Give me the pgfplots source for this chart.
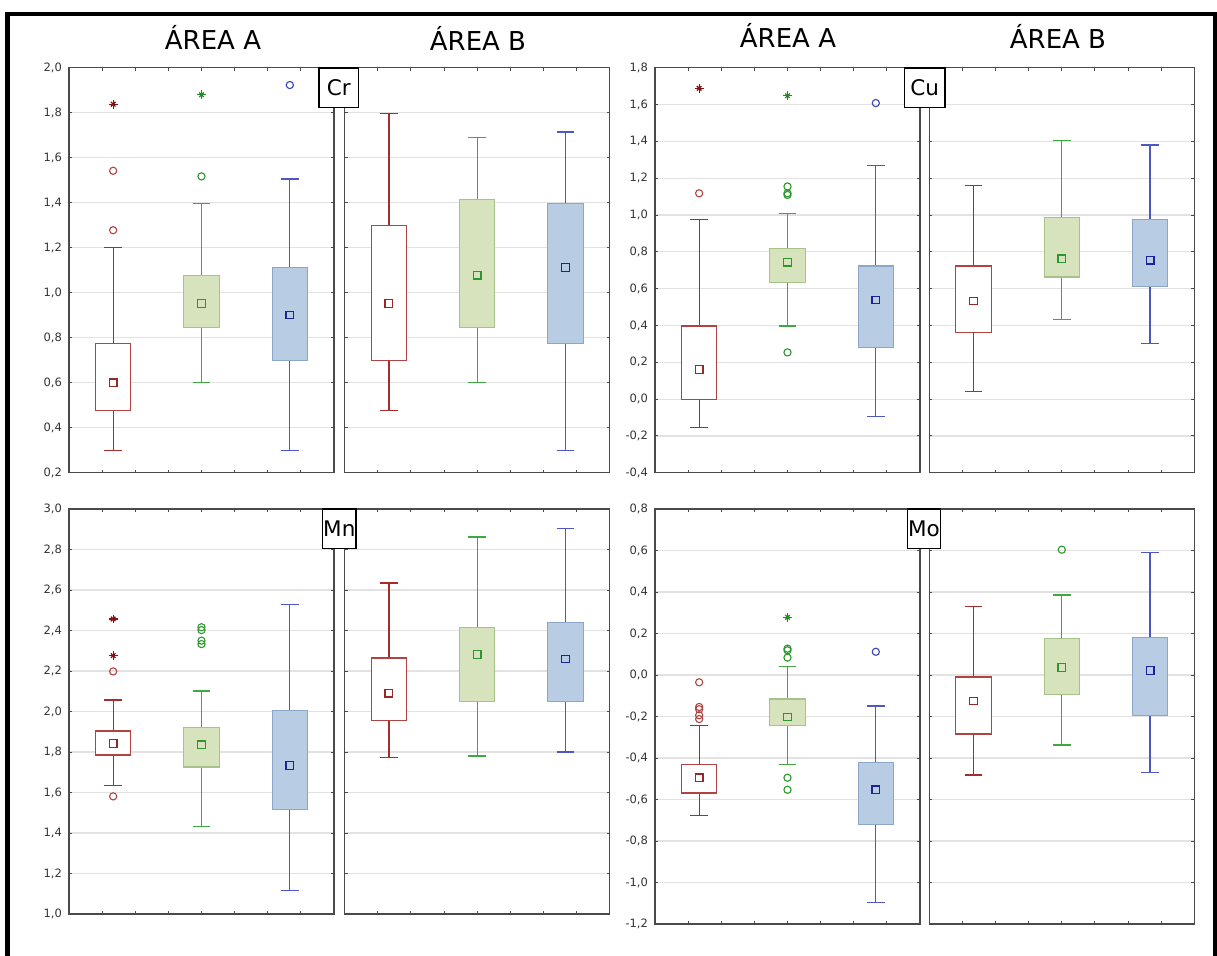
\documentclass[border=0pt]{standalone}
\usepackage{pgfplots}
\pgfplotsset{compat=1.18}
\usepgfplotslibrary{statistics}
\usepackage{fontspec}
\setmainfont{DejaVu Sans}

\definecolor{axgray}{HTML}{4A4A4A}
\definecolor{gridgray}{HTML}{E2E2E2}
\definecolor{tickgray}{HTML}{333333}
\definecolor{rline}{HTML}{B04444}
\definecolor{rfill}{HTML}{FFFFFF}
\definecolor{rwhisk}{HTML}{A82C2C}
\definecolor{rmeanc}{HTML}{962828}
\definecolor{rstarc}{HTML}{8A1010}
\definecolor{gline}{HTML}{A8C28C}
\definecolor{gfill}{HTML}{D6E3BC}
\definecolor{gwhisk}{HTML}{40A840}
\definecolor{gmeanc}{HTML}{2E962E}
\definecolor{gstarc}{HTML}{1E8C1E}
\definecolor{bline}{HTML}{8CA6C8}
\definecolor{bfill}{HTML}{B8CCE4}
\definecolor{bwhisk}{HTML}{4E58C4}
\definecolor{bmeanc}{HTML}{20209A}
\definecolor{boutc}{HTML}{3A44B8}

\pgfplotsset{
  panel/.style={scale only axis, width=132.5pt,
    xmin=0, xmax=6, xtick={0.75,1.5,2.25,3,3.75,4.5,5.25}, xticklabels={},
    tick align=inside, major tick length=1.5pt,
    ymajorgrids, grid style={draw=gridgray, line width=0.6pt},
    axis line style={draw=axgray, line width=0.65pt},
    tick style={draw=axgray, line width=0.5pt},
    yticklabel style={font=\fontsize{5.75}{6}\selectfont, text=tickgray},
    clip=false,
    yticklabel={\pgfmathprintnumber[fixed, fixed zerofill, precision=1, use comma, assume math mode=true]{\tick}}},
  rmean/.style={only marks, mark=square*, mark size=1.9pt, mark options={draw=rmeanc, fill=white, line width=0.6pt}},
  gmean/.style={only marks, mark=square*, mark size=1.9pt, mark options={draw=gmeanc, fill=gfill, line width=0.6pt}},
  bmean/.style={only marks, mark=square*, mark size=1.9pt, mark options={draw=bmeanc, fill=bfill, line width=0.6pt}},
  rout/.style={only marks, mark=o, mark size=1.8pt, mark options={draw=rline, line width=0.55pt}},
  gout/.style={only marks, mark=o, mark size=1.8pt, mark options={draw=gmeanc, line width=0.55pt}},
  bout/.style={only marks, mark=o, mark size=1.8pt, mark options={draw=boutc, line width=0.55pt}},
  starA/.style={only marks, mark=+, mark size=2.2pt, mark options={draw=#1, line width=0.65pt}},
  starB/.style={only marks, mark=x, mark size=1.6pt, mark options={draw=#1, line width=0.65pt}},
}

% #1 colour prefix (r,g,b), #2 position, #3 lower whisker, #4 lower quartile, #5 median, #6 upper quartile, #7 upper whisker
\newcommand{\BP}[7]{%
  \addplot[draw=#1whisk, boxplot prepared={draw direction=y, draw position=#2,
    lower whisker=#3, lower quartile=#4, median=#5, upper quartile=#6, upper whisker=#7,
    box extend=0.8, whisker extend=0.4,
    every box/.style={draw=#1line, fill=#1fill, line width=0.6pt},
    every whisker/.style={draw=#1whisk, line width=0.65pt},
    draw/median/.code={}}] coordinates {};
  \addplot[#1mean] coordinates {(#2,#5)};
}

\begin{document}
\begin{tikzpicture}
\begin{scope}[x=0.5pt,y=-0.5pt]
  \coordinate (CrA) at (69,472.8);
  \coordinate (CrB) at (344.7,472.8);
  \coordinate (CuA) at (655,472.8);
  \coordinate (CuB) at (929.3,472.8);
  \coordinate (MnA) at (69,914);
  \coordinate (MnB) at (344.7,914);
  \coordinate (MoA) at (655,924);
  \coordinate (MoB) at (929.3,924);
\end{scope}

% ---------------- Cr ----------------
\begin{axis}[panel, at={(CrA)}, anchor=south west, height=202.55pt, ymin=0.2, ymax=2.0,
  ytick={0.2,0.4,0.6,0.8,1.0,1.2,1.4,1.6,1.8,2.0}]
  \BP{r}{1}{0.299}{0.476}{0.600}{0.775}{1.202}
  \BP{g}{3}{0.600}{0.845}{0.953}{1.078}{1.397}
  \BP{b}{5}{0.299}{0.698}{0.901}{1.112}{1.505}
  \addplot[rout] coordinates {(1,1.278) (1,1.542)};
  \addplot[starA=rstarc] coordinates {(1,1.838)};
  \addplot[starB=rstarc] coordinates {(1,1.838)};
  \addplot[gout] coordinates {(3,1.517)};
  \addplot[starA=gstarc] coordinates {(3,1.880)};
  \addplot[starB=gstarc] coordinates {(3,1.880)};
  \addplot[bout] coordinates {(5,1.923)};
\end{axis}
\begin{axis}[panel, at={(CrB)}, anchor=south west, height=202.55pt, ymin=0.2, ymax=2.0,
  ytick={0.2,0.4,0.6,0.8,1.0,1.2,1.4,1.6,1.8,2.0}, yticklabels={}]
  \BP{r}{1}{0.476}{0.698}{0.953}{1.300}{1.798}
  \BP{g}{3}{0.600}{0.845}{1.078}{1.413}{1.689}
  \BP{b}{5}{0.299}{0.775}{1.112}{1.397}{1.715}
\end{axis}

% ---------------- Cu ----------------
\begin{axis}[panel, at={(CuA)}, anchor=south west, height=202.55pt, ymin=-0.4, ymax=1.8,
  ytick={-0.4,-0.2,0,0.2,0.4,0.6,0.8,1.0,1.2,1.4,1.6,1.8}]
  \BP{r}{1}{-0.154}{0.0}{0.162}{0.397}{0.977}
  \BP{g}{3}{0.397}{0.634}{0.744}{0.818}{1.008}
  \BP{b}{5}{-0.096}{0.280}{0.538}{0.723}{1.270}
  \addplot[rout] coordinates {(1,1.118)};
  \addplot[starA=rstarc] coordinates {(1,1.688)};
  \addplot[starB=rstarc] coordinates {(1,1.688)};
  \addplot[gout] coordinates {(3,1.155) (3,1.118) (3,1.109) (3,0.254)};
  \addplot[starA=gstarc] coordinates {(3,1.648)};
  \addplot[starB=gstarc] coordinates {(3,1.648)};
  \addplot[bout] coordinates {(5,1.608)};
\end{axis}
\begin{axis}[panel, at={(CuB)}, anchor=south west, height=202.55pt, ymin=-0.4, ymax=1.8,
  ytick={-0.4,-0.2,0,0.2,0.4,0.6,0.8,1.0,1.2,1.4,1.6,1.8}, yticklabels={}]
  \BP{r}{1}{0.041}{0.361}{0.533}{0.723}{1.160}
  \BP{g}{3}{0.432}{0.663}{0.762}{0.988}{1.404}
  \BP{b}{5}{0.301}{0.612}{0.755}{0.976}{1.381}
\end{axis}

% ---------------- Mn ----------------
\begin{axis}[panel, at={(MnA)}, anchor=south west, height=202.5pt, ymin=1.0, ymax=3.0,
  ytick={1.0,1.2,1.4,1.6,1.8,2.0,2.2,2.4,2.6,2.8,3.0}]
  \BP{r}{1}{1.634}{1.785}{1.843}{1.904}{2.057}
  \BP{g}{3}{1.433}{1.726}{1.836}{1.923}{2.101}
  \BP{b}{5}{1.115}{1.518}{1.733}{2.004}{2.528}
  \addplot[rout] coordinates {(1,1.581) (1,2.198)};
  \addplot[starA=rstarc] coordinates {(1,2.276) (1,2.457)};
  \addplot[starB=rstarc] coordinates {(1,2.276) (1,2.457)};
  \addplot[gout] coordinates {(3,2.416) (3,2.402) (3,2.350) (3,2.333)};
\end{axis}
\begin{axis}[panel, at={(MnB)}, anchor=south west, height=202.5pt, ymin=1.0, ymax=3.0,
  ytick={1.0,1.2,1.4,1.6,1.8,2.0,2.2,2.4,2.6,2.8,3.0}, yticklabels={}]
  \BP{r}{1}{1.772}{1.955}{2.090}{2.264}{2.635}
  \BP{g}{3}{1.780}{2.050}{2.281}{2.416}{2.862}
  \BP{b}{5}{1.800}{2.050}{2.259}{2.440}{2.905}
\end{axis}

% ---------------- Mo ----------------
\begin{axis}[panel, at={(MoA)}, anchor=south west, height=207.5pt, ymin=-1.2, ymax=0.8,
  ytick={-1.2,-1.0,-0.8,-0.6,-0.4,-0.2,0,0.2,0.4,0.6,0.8}]
  \BP{r}{1}{-0.678}{-0.569}{-0.495}{-0.432}{-0.244}
  \BP{g}{3}{-0.432}{-0.244}{-0.202}{-0.116}{0.042}
  \BP{b}{5}{-1.097}{-0.720}{-0.553}{-0.421}{-0.149}
  \addplot[rout] coordinates {(1,-0.035) (1,-0.154) (1,-0.165) (1,-0.194) (1,-0.212)};
  \addplot[gout] coordinates {(3,0.127) (3,0.119) (3,0.084) (3,-0.495) (3,-0.553)};
  \addplot[starA=gstarc] coordinates {(3,0.278)};
  \addplot[starB=gstarc] coordinates {(3,0.278)};
  \addplot[bout] coordinates {(5,0.112)};
\end{axis}
\begin{axis}[panel, at={(MoB)}, anchor=south west, height=207.5pt, ymin=-1.2, ymax=0.8,
  ytick={-1.2,-1.0,-0.8,-0.6,-0.4,-0.2,0,0.2,0.4,0.6,0.8}, yticklabels={}]
  \BP{r}{1}{-0.482}{-0.284}{-0.125}{-0.010}{0.331}
  \BP{g}{3}{-0.337}{-0.092}{0.037}{0.177}{0.386}
  \BP{b}{5}{-0.469}{-0.196}{0.022}{0.182}{0.590}
  \addplot[gout] coordinates {(3,0.604)};
\end{axis}

\begin{scope}[x=0.5pt,y=-0.5pt]
  \begin{scope}
  \clip (0,0) rectangle (1217,955);
  % outer frame
  \draw[line width=2.3pt] (7.5,14) rectangle (1215,1000);
  \end{scope}
  % titles
  \node[anchor=base, font=\fontsize{13}{15}\selectfont] at (213,49) {ÁREA A};
  \node[anchor=base, font=\fontsize{13}{15}\selectfont] at (478,50) {ÁREA B};
  \node[anchor=base, font=\fontsize{13}{15}\selectfont] at (788,47) {ÁREA A};
  \node[anchor=base, font=\fontsize{13}{15}\selectfont] at (1058,48) {ÁREA B};
  % element labels
  \draw[line width=0.65pt, fill=white] (319,68) rectangle (358.7,107.7);
  \node[font=\fontsize{10.75}{12}\selectfont] at (338.9,88) {Cr};
  \draw[line width=0.65pt, fill=white] (904.3,68) rectangle (945,107.7);
  \node[font=\fontsize{10.75}{12}\selectfont] at (924.6,88) {Cu};
  \draw[line width=0.65pt, fill=white] (322.7,509) rectangle (356,548.5);
  \node[font=\fontsize{10.75}{12}\selectfont] at (339.3,529) {Mn};
  \draw[line width=0.65pt, fill=white] (907.3,509) rectangle (940.7,548.5);
  \node[font=\fontsize{10.75}{12}\selectfont] at (924,529) {Mo};
  \pgfresetboundingbox
  \useasboundingbox (0,0) rectangle (1217,955);
\end{scope}
\end{tikzpicture}
\end{document}
